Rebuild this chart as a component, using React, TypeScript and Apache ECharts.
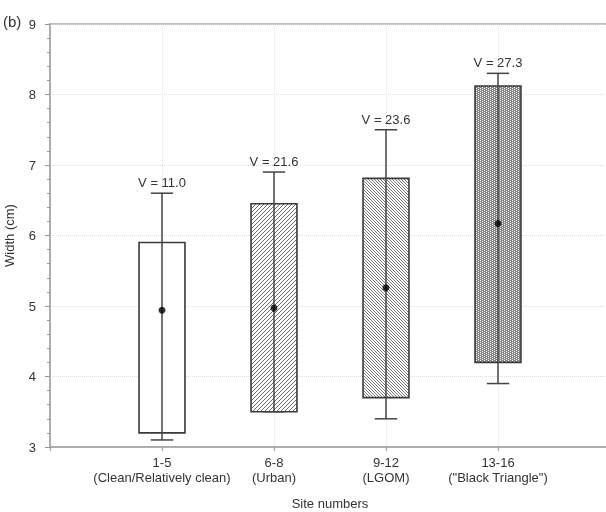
import React, { useEffect, useRef } from 'react';
import * as echarts from 'echarts';

const categories = ['1-5\n(Clean/Relatively clean)', '6-8\n(Urban)', '9-12\n(LGOM)', '13-16\n("Black Triangle")'];
const boxLow = [3.2, 3.5, 3.7, 4.2];
const boxHigh = [5.9, 6.45, 6.81, 8.12];
const whiskerLow = [3.1, 3.5, 3.4, 3.9];
const whiskerHigh = [6.6, 6.9, 7.5, 8.3];
const means = [4.94, 4.97, 5.26, 6.17];
const vLabels = ['V = 11.0', 'V = 21.6', 'V = 23.6', 'V = 27.3'];
const fillKinds = ['none', 'slash', 'backslash', 'cross'];

const FONT = '"Liberation Sans", Arial, sans-serif';

function makeFill(kind: string): any {
  if (kind === 'none') return '#ffffff';
  const w = kind === 'slash' ? 4 : kind === 'backslash' ? 3 : 4;
  const h = kind === 'cross' ? 2 : w;
  const c = document.createElement('canvas');
  c.width = w;
  c.height = h;
  const ctx = c.getContext('2d')!;
  ctx.fillStyle = '#ffffff';
  ctx.fillRect(0, 0, w, h);
  if (kind === 'slash') {
    ctx.fillStyle = '#6a6a6a';
    for (let i = 0; i < w; i++) ctx.fillRect(i, w - 1 - i, 1, 1);
  } else if (kind === 'backslash') {
    ctx.fillStyle = '#7a7a7a';
    for (let i = 0; i < w; i++) ctx.fillRect(i, i, 1, 1);
  } else {
    ctx.fillStyle = '#858585';
    ctx.fillRect(0, 0, w, h);
    ctx.fillStyle = '#ffffff';
    ctx.fillRect(0, 0, 1, 1);
    ctx.fillRect(2, 1, 1, 1);
  }
  return { image: c, repeat: 'repeat', imageWidth: w, imageHeight: h };
}

export default function App() {
  const ref = useRef<HTMLDivElement>(null);
  useEffect(() => {
    if (!ref.current) return;
    const chart = echarts.init(ref.current, null, { renderer: 'svg' });
    const fills = fillKinds.map(makeFill);
    const boxData = categories.map((_, i) => [i + 1, boxLow[i], boxHigh[i], whiskerLow[i], whiskerHigh[i]]);
    const meanData = means.map((m, i) => [i + 1, m]);
    chart.setOption({
      animation: false,
      grid: {
        left: 50, top: 24, width: 560, height: 423,
        outerBoundsMode: 'none', containLabel: false,
        show: true, borderColor: '#a6a6a6', borderWidth: 1.5, backgroundColor: 'transparent',
      },
      graphic: [
        { type: 'text', left: 3, top: 14, style: { text: '(b)', fontSize: 15, fontFamily: FONT, fill: '#333' } },
      ],
      xAxis: {
        type: 'value', min: 0, max: 5, interval: 1,
        name: 'Site numbers', nameLocation: 'middle', nameGap: 50,
        nameTextStyle: { fontSize: 13, color: '#333', fontFamily: FONT },
        axisLine: { show: true, lineStyle: { color: '#a6a6a6', width: 1.5 } },
        axisTick: { show: true, length: 4, lineStyle: { color: '#999' } },
        axisLabel: {
          margin: 8, fontSize: 13, color: '#333', fontFamily: FONT, lineHeight: 15,
          formatter: (v: number) => (v >= 1 && v <= categories.length ? categories[v - 1] : ''),
        },
        splitLine: { show: true, lineStyle: { color: '#e2e2e2', type: 'dotted', width: 1 } },
      },
      yAxis: {
        type: 'value', min: 3, max: 9, interval: 1,
        name: 'Width (cm)', nameLocation: 'middle', nameGap: 34,
        nameTextStyle: { fontSize: 13, color: '#333', fontFamily: FONT },
        axisLine: { show: true, lineStyle: { color: '#a6a6a6', width: 1.5 } },
        axisTick: { show: true, length: 5, lineStyle: { color: '#999' } },
        minorTick: { show: true, splitNumber: 5, length: 3, lineStyle: { color: '#999' } },
        axisLabel: { margin: 14, fontSize: 13, color: '#333', fontFamily: FONT },
        splitLine: { show: true, lineStyle: { color: '#dcdcdc', type: 'dotted', width: 1 } },
      },
      series: [
        {
          type: 'custom',
          data: boxData,
          encode: { x: 0, y: [1, 2, 3, 4] },
          clip: false,
          z: 2,
          renderItem: (params: any, api: any) => {
            const i = params.dataIndex;
            const x = api.value(0);
            const [cx, yBoxTop] = api.coord([x, api.value(2)]);
            const yBoxBot = api.coord([x, api.value(1)])[1];
            const yWLo = api.coord([x, api.value(3)])[1];
            const yWHi = api.coord([x, api.value(4)])[1];
            const bw = api.size([0.41, 0])[0];
            const cap = api.size([0.2, 0])[0];
            const ls = { stroke: '#444', lineWidth: 1.5 };
            return {
              type: 'group',
              children: [
                { type: 'rect', shape: { x: cx - bw / 2, y: yBoxTop, width: bw, height: yBoxBot - yBoxTop }, style: { fill: fills[i], stroke: '#3a3a3a', lineWidth: 1.6 } },
                { type: 'line', shape: { x1: cx, y1: yWLo, x2: cx, y2: yWHi }, style: ls },
                { type: 'line', shape: { x1: cx - cap / 2, y1: yWHi, x2: cx + cap / 2, y2: yWHi }, style: ls },
                { type: 'line', shape: { x1: cx - cap / 2, y1: yWLo, x2: cx + cap / 2, y2: yWLo }, style: ls },
                { type: 'text', x: cx, y: yWHi - 4, style: { text: vLabels[i], fill: '#333', fontSize: 13, fontFamily: FONT, align: 'center', verticalAlign: 'bottom' } },
              ],
            };
          },
        },
        {
          type: 'scatter',
          data: meanData,
          symbol: 'circle',
          symbolSize: 7,
          itemStyle: { color: '#000' },
          z: 5,
        },
      ],
    });
    return () => chart.dispose();
  }, []);
  return <div ref={ref} style={{ position: 'fixed', left: 0, top: 0, width: 606, height: 512 }} />;
}
